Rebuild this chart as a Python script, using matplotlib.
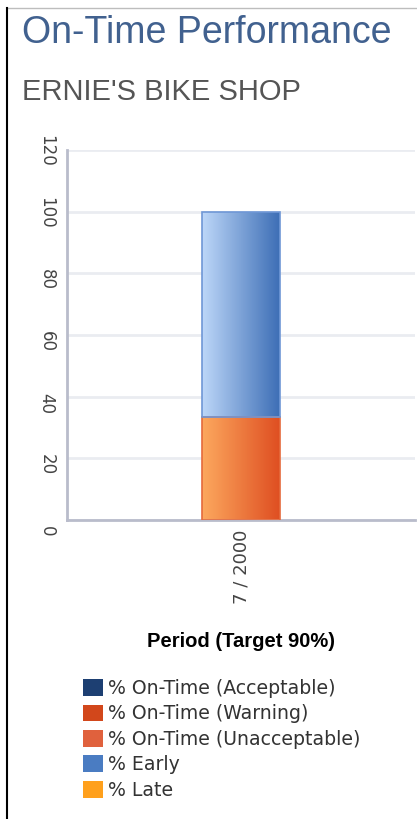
import numpy as np
import matplotlib
matplotlib.use('Agg')
import matplotlib.pyplot as plt
import matplotlib.transforms as mtransforms
from matplotlib.patches import Patch
from matplotlib.lines import Line2D
from matplotlib.colors import LinearSegmentedColormap

plt.rcParams['font.family'] = ['Liberation Sans', 'DejaVu Sans']

# data
periods = ['7 / 2000']
pct_late = [33.4]
pct_early = [66.6]
legend_labels = ['% On-Time (Acceptable)', '% On-Time (Warning)',
                 '% On-Time (Unacceptable)', '% Early', '% Late']
legend_colors = ['#1d3f72', '#d2471b', '#e0613d', '#4a7cc2', '#ffa01c']

fig = plt.figure(figsize=(4.17, 8.19), dpi=100, facecolor='white')

# page frame
fig.add_artist(Line2D([7/417, 1], [1 - 8/819, 1 - 8/819], color='#bdbdbd', lw=1))
fig.add_artist(Line2D([7/417, 7/417], [0, 1 - 8/819], color='black', lw=1.5))

fig.text(22/417, 1 - 33/819, 'On-Time Performance', fontsize=27, color='#41618f',
         va='center', ha='left')
fig.text(22/417, 1 - 92/819, "ERNIE'S BIKE SHOP", fontsize=21, color='#555555',
         va='center', ha='left')

ax = fig.add_axes([67/417, 1 - 520/819, 348/417, 370/819])
ax.set_xlim(-0.5, 0.5)
ax.set_ylim(0, 120)
ax.set_yticks(range(0, 121, 20))
ax.yaxis.grid(True, color='#eaecf1', lw=2)
ax.set_axisbelow(True)
for s in ['top', 'right']:
    ax.spines[s].set_visible(False)
for s in ['left', 'bottom']:
    ax.spines[s].set_color('#b9bccb')
    ax.spines[s].set_linewidth(2)

x = np.arange(len(periods))
w = 0.224


def grad_bar(xs, heights, bottoms, c_left, c_right, edge):
    cmap = LinearSegmentedColormap.from_list('g', [c_left, c_right])
    bars = ax.bar(xs, heights, w, bottom=bottoms, color='none', edgecolor=edge, lw=1.2, zorder=3)
    for b in bars:
        x0, y0 = b.get_x(), b.get_y()
        im = ax.imshow(np.linspace(0, 1, 64).reshape(1, -1), cmap=cmap, aspect='auto',
                       extent=[x0, x0 + b.get_width(), y0, y0 + b.get_height()], zorder=2)
        im.set_clip_path(b)
    return bars


grad_bar(x, pct_late, 0, '#fca85e', '#df4f22', '#e56a3c')
grad_bar(x, pct_early, pct_late, '#bcd6f8', '#3e6fb6', '#6f97d6')
ax.set_xlim(-0.5, 0.5)
ax.set_ylim(0, 120)

ax.set_xticks(x)
ax.set_xticklabels(periods, rotation=90, fontsize=13, color='#444444', family='DejaVu Sans')
ax.tick_params(axis='y', length=0, pad=14.8, labelsize=12, labelcolor='#444444')
ax.tick_params(axis='x', length=0, pad=7)
shift = mtransforms.ScaledTranslation(0, -17/100, fig.dpi_scale_trans)
for t in ax.get_yticklabels():
    t.set_family('DejaVu Sans')
    t.set_rotation(-90)
    t.set_rotation_mode('anchor')
    t.set_ha('right')
    t.set_va('center')
    t.set_transform(t.get_transform() + shift)
ax.set_xlabel('Period (Target 90%)', fontsize=14.5, fontweight='bold', color='black',
              labelpad=20)

handles = [Patch(facecolor=c, edgecolor='none') for c in legend_colors]
fig.legend(handles, legend_labels, loc='upper left', bbox_to_anchor=(83/417, 1 - 679/819),
           frameon=False, borderpad=0, borderaxespad=0,
           prop={'family': 'DejaVu Sans', 'size': 13.6}, handlelength=1.05, handleheight=1.0,
           handletextpad=0.28, labelspacing=0.34, labelcolor='#333333')

fig.savefig('out.png', dpi=100, facecolor='white')
